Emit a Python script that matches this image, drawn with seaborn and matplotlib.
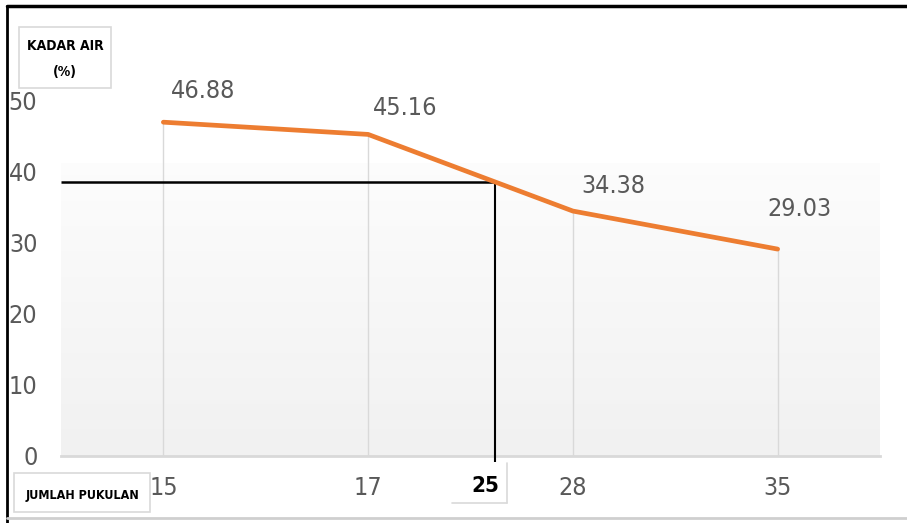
import numpy as np
import matplotlib
matplotlib.use("Agg")
import matplotlib.pyplot as plt
from matplotlib.lines import Line2D
from matplotlib.patches import Rectangle
import seaborn as sns

# Blow count (x categories) and moisture content (%)
blow_labels = ["15", "17", "28", "35"]
moisture = [46.88, 45.16, 34.38, 29.03]
y_ticks = [0, 10, 20, 30, 40, 50]

# Liquid-limit reading at 25 blows
ref_label = "25"
ref_moisture = 38.5

sns.set_theme(style="white")
plt.rcParams["font.family"] = ["DejaVu Sans"]
plt.rcParams["font.stretch"] = "condensed"

W, H = 907, 523
fig = plt.figure(figsize=(W / 100, H / 100), dpi=100)
fig.patch.set_facecolor("white")

def fx(px):
    return px / W

def fy(py):
    return 1 - py / H

ax = fig.add_axes([fx(61), fy(455.5), fx(880) - fx(61), fy(100) - fy(455.5)])
ax.set_facecolor("none")

# Soft gray plot-area fill
grad = np.linspace(0.99, 0.945, 200).reshape(-1, 1)
ax.imshow(np.dstack([grad, grad, grad]), extent=(-0.5, 3.5, 0, 41.1),
          aspect="auto", origin="upper", zorder=0, interpolation="bilinear")

sns.lineplot(x=blow_labels, y=moisture, sort=False, ax=ax, color="#ED7D31",
             linewidth=3.4, zorder=4)

# Drop lines from each point to the axis
xpos = np.arange(len(blow_labels))
ax.vlines(xpos, 0, moisture, color="#d9d9d9", linewidth=1.0, zorder=2)

ax.set_xlim(-0.5, 3.5)
ax.set_ylim(0, 50)
ax.set_yticks(y_ticks)
ax.set_yticklabels([str(t) for t in y_ticks])
for s in ["top", "right", "left"]:
    ax.spines[s].set_visible(False)
ax.spines["bottom"].set_color("#d9d9d9")
ax.spines["bottom"].set_linewidth(2.0)
ax.tick_params(axis="both", length=0, labelsize=18, colors="#595959")
ax.tick_params(axis="x", pad=15)
ax.tick_params(axis="y", pad=17)
for lab in ax.get_xticklabels() + ax.get_yticklabels():
    lab.set_fontstretch("condensed")
ax.set_xlabel("")
ax.set_ylabel("")

# Value labels
offsets = [(40, -31), (37, -26), (40, -25), (22, -40)]
for i, (v, off) in enumerate(zip(moisture, offsets)):
    ax.annotate(f"{v:.2f}", (i, v), xytext=(off[0], -off[1]),
                textcoords="offset pixels", ha="center", va="center",
                fontsize=18, fontstretch="condensed", color="#595959",
                annotation_clip=False, zorder=5)

# Reading lines at the reference moisture
i0 = 1
frac = (moisture[i0] - ref_moisture) / (moisture[i0] - moisture[i0 + 1])
ref_x = i0 + frac
ax.plot([-0.5, ref_x], [ref_moisture, ref_moisture], color="black",
        linewidth=1.8, zorder=3, solid_capstyle="butt")
ax.plot([ref_x, ref_x], [ref_moisture, -0.9], color="black",
        linewidth=1.5, zorder=3, clip_on=False, solid_capstyle="butt")

# Label boxes
def box(x0, y0, x1, y1, edges="all"):
    r = Rectangle((fx(x0), fy(y1)), fx(x1) - fx(x0), fy(y0) - fy(y1),
                  transform=fig.transFigure, facecolor="white",
                  edgecolor="#d9d9d9" if edges == "all" else "none",
                  linewidth=1.2, zorder=6)
    fig.add_artist(r)

box(19, 27, 111, 88)
fig.text(fx(65), fy(46), "KADAR AIR", ha="center", va="center",
         fontsize=10, fontweight="bold", fontstretch="condensed",
         color="black", zorder=7)
fig.text(fx(65), fy(72), "(%)", ha="center", va="center",
         fontsize=10, fontweight="bold", fontstretch="condensed",
         color="black", zorder=7)

box(14, 473, 150, 512)
fig.text(fx(82), fy(495), "JUMLAH PUKULAN", ha="center", va="center",
         fontsize=9, fontweight="bold", fontstretch="condensed",
         color="black", zorder=7)

box(452, 463, 507, 503, edges="none")
fig.add_artist(Line2D([fx(507), fx(507)], [fy(463), fy(503)],
                      color="#d9d9d9", linewidth=1.2, zorder=7))
fig.add_artist(Line2D([fx(452), fx(507)], [fy(503), fy(503)],
                      color="#d9d9d9", linewidth=1.2, zorder=7))
fig.text(fx(485), fy(486), ref_label, ha="center", va="center",
         fontsize=16, fontweight="bold", color="black", zorder=7)

# Frame edges
fig.add_artist(Line2D([fx(7), 1], [fy(6), fy(6)], color="black",
                      linewidth=2.5, zorder=8))
fig.add_artist(Line2D([fx(7), fx(7)], [fy(6), 0], color="black",
                      linewidth=2.0, zorder=8))
fig.add_artist(Line2D([fx(7), 1], [fy(518), fy(518)], color="#cfcfcf",
                      linewidth=2.0, zorder=8))

fig.savefig("out.png", dpi=100)
